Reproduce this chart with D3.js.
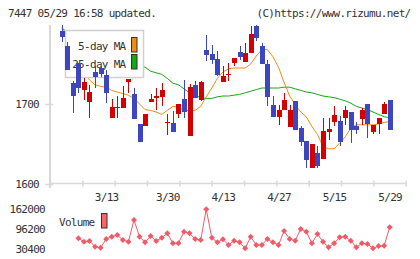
<!DOCTYPE html>
<html>
<head>
<meta charset="utf-8">
<script src="https://cdn.jsdelivr.net/npm/d3@7"></script>
<style>
body { margin: 0; background: #fff; }
text { font-family: "DejaVu Sans Mono", monospace; font-size: 11px; letter-spacing: -0.7px; fill: #333; }
</style>
</head>
<body>
<svg></svg>
<script>
var width = 420,
    height = 259;

// trading days shown (index 0 .. 59)
var dates = ["3/3","3/4","3/5","3/6","3/9","3/10","3/11","3/12","3/13","3/16",
  "3/17","3/18","3/19","3/20","3/23","3/24","3/25","3/26","3/27","3/30",
  "3/31","4/1","4/2","4/3","4/6","4/7","4/8","4/9","4/10","4/13",
  "4/14","4/15","4/16","4/17","4/20","4/21","4/22","4/23","4/24","4/27",
  "4/28","4/30","5/1","5/7","5/8","5/11","5/12","5/13","5/14","5/15",
  "5/18","5/19","5/20","5/21","5/22","5/25","5/26","5/27","5/28","5/29"];

var open = [1791,1772,1726,1751,1718,1703,1740,1745,1736,1683,
  1695,1695,1728,1712,1675,1672,1702,1707,1709,1677,
  1676,1687,1706,1660,1724,1705,1767,1762,1756,1728,
  1736,1751,1765,1753,1764,1797,1772,1750,1699,1684,
  1693,1671,1704,1670,1654,1620,1639,1631,1665,1678,
  1679,1682,1690,1672,1681,1700,1665,1675,1687,1705];
var high = [1799,1778,1729,1751,1732,1724,1747,1747,1742,1706,
  1710,1722,1731,1720,1675,1688,1712,1720,1726,1687,
  1691,1700,1730,1725,1729,1729,1786,1774,1766,1747,
  1751,1758,1772,1776,1797,1799,1776,1755,1710,1699,
  1714,1699,1704,1672,1654,1650,1647,1682,1683,1697,
  1685,1698,1690,1678,1695,1700,1674,1682,1703,1705];
var low = [1777,1742,1689,1714,1705,1682,1720,1734,1701,1683,
  1683,1695,1714,1681,1652,1672,1702,1692,1697,1661,
  1665,1683,1683,1660,1707,1704,1754,1750,1735,1728,
  1729,1747,1755,1753,1764,1779,1750,1697,1684,1674,
  1693,1671,1667,1647,1620,1620,1620,1631,1655,1672,
  1647,1674,1651,1663,1674,1658,1662,1662,1687,1668];
var close = [1784,1742,1710,1720,1728,1715,1734,1738,1714,1696,
  1696,1707,1731,1681,1653,1688,1706,1710,1717,1678,
  1665,1700,1690,1721,1708,1727,1761,1755,1736,1735,
  1737,1757,1759,1764,1788,1782,1750,1709,1684,1692,
  1705,1693,1668,1653,1630,1650,1622,1666,1669,1686,
  1652,1692,1668,1667,1692,1675,1674,1682,1700,1668];

// moving averages
var ma5 = [1794,1786,1774,1757,1740,1730,1724,1722,1721,1717,
  1715,1713,1711,1707,1700,1693,1692,1690,1687,1692,
  1697,1696,1692,1692,1692,1697,1709,1720,1732,1740,
  1744,1745,1745,1745,1750,1760,1768,1768,1759,1746,
  1727,1710,1699,1690,1684,1672,1662,1647,1644,1644,
  1651,1659,1670,1674,1674,1674,1674,1675,1677,1678];
var ma25 = [1795,1790,1785,1780,1776,1772,1769,1766,1762,1760,
  1757,1755,1752,1750,1747,1746,1741,1739,1737,1732,
  1726,1724,1719,1714,1711,1708,1707,1707,1709,1710,
  1710,1711,1712,1714,1716,1718,1720,1720,1720,1720,
  1721,1721,1719,1717,1715,1714,1712,1710,1709,1708,
  1706,1704,1701,1697,1695,1693,1690,1687,1684,1683];

var volume = [null,null,null,65600,54400,56700,38000,34700,63300,70900,
  76500,60000,54400,125800,70900,52400,73200,56700,67600,82000,
  49200,49200,87300,82000,63300,60000,161000,67600,52400,62300,
  43600,57700,52400,32600,70900,43600,43600,63300,52400,43600,
  89600,63300,57700,96200,87300,49100,79800,54400,35900,49100,
  68800,70900,57700,35900,49100,46900,32600,40300,41300,101700];

var dateLabels = ["3/13","3/30","4/13","4/27","5/15","5/29"];
var priceTicks = [1600, 1700];
var volumeTicks = [30400, 96200, 162000];

var svg = d3.select("svg")
    .attr("width", width)
    .attr("height", height);

var plotLeft = 50, plotRight = 405.7, plotTop = 24, plotBottom = 184;
var blue = "#3c46c0", red = "#d40000", axisColor = "#d8d8d8";

var x = d3.scalePoint().domain(d3.range(dates.length)).range([61.7, 389.7]);
var y = d3.scaleLinear().domain([1600, 1800]).range([plotBottom, plotTop]);
var frame = d3.scaleLinear().domain([0, 11]).range([plotLeft, plotRight]);
var yv = d3.scaleLinear().domain([30400, 162000]).range([249, 209]);

//header
svg.append("text").attr("x", 8).attr("y", 16.5).text("7447 05/29 16:58 updated.");
svg.append("text").attr("x", 410.5).attr("y", 16.5).attr("text-anchor", "end")
  .text("(C)https://www.rizumu.net/");

//axes lines
svg.append("line").attr("x1", plotLeft).attr("x2", plotLeft).attr("y1", plotTop + 1).attr("y2", plotBottom + 4)
  .attr("stroke", axisColor).attr("stroke-width", 2);
svg.append("line").attr("x1", plotLeft).attr("x2", plotRight).attr("y1", plotBottom - 0.5).attr("y2", plotBottom - 0.5)
  .attr("stroke", axisColor).attr("stroke-width", 1.5);

//y axis
var yAxis = svg.append("g")
  .attr("transform", "translate(" + plotLeft + ",0)")
  .call(d3.axisLeft(y).tickValues(priceTicks).tickSize(5).tickPadding(6).tickFormat(d3.format("d")));
yAxis.select(".domain").remove();
yAxis.selectAll("line").attr("x1", 3).attr("stroke", axisColor).attr("stroke-width", 1.5);
yAxis.selectAll("text").attr("fill", "#333");

//x frame ticks
var xFrame = svg.append("g")
  .attr("transform", "translate(0," + (plotBottom - 0.5) + ")")
  .call(d3.axisBottom(frame).tickValues(d3.range(12)).tickSize(3).tickFormat(""));
xFrame.select(".domain").remove();
xFrame.selectAll("line").attr("y1", -3).attr("stroke", axisColor).attr("stroke-width", 1.5);

//x date labels
var xLab = svg.append("g")
  .attr("transform", "translate(0," + (plotBottom + 6) + ")")
  .call(d3.axisBottom(x).tickValues(dateLabels.map(function(d){ return dates.indexOf(d); }))
    .tickSize(0).tickFormat(function(i){ return dates[i]; }));
xLab.select(".domain").remove();
xLab.selectAll("text").attr("fill", "#333");

//moving averages
var maLine = function(arr) {
  return d3.line().x(function(d, i){ return x(i); }).y(function(d){ return y(d); })(arr);
};
svg.append("path").attr("d", maLine(ma25)).attr("fill", "none").attr("stroke", "#14a814").attr("stroke-width", 1);
svg.append("path").attr("d", maLine(ma5)).attr("fill", "none").attr("stroke", "#f08c14").attr("stroke-width", 1);

//legend box
var lg = svg.append("g");
lg.append("rect").attr("x", 65.5).attr("y", 30.5).attr("width", 78).attr("height", 47)
  .attr("fill", "#fff").attr("stroke", "#d0d0d0").attr("stroke-width", 1.5);
lg.append("text").attr("x", 125.5).attr("y", 50).attr("text-anchor", "end").text("5-day MA");
lg.append("text").attr("x", 125.5).attr("y", 67.5).attr("text-anchor", "end").text("25-day MA");
lg.append("rect").attr("x", 131.5).attr("y", 37.5).attr("width", 5.5).attr("height", 14.5)
  .attr("fill", "#f08c14").attr("stroke", "#333");
lg.append("rect").attr("x", 131.5).attr("y", 54.5).attr("width", 5.5).attr("height", 14.5)
  .attr("fill", "#14a814").attr("stroke", "#333");

//candles
var candle = svg.append("g").selectAll("g")
    .data(d3.range(dates.length))
  .enter().append("g")
    .attr("shape-rendering", "crispEdges");
candle.append("line")
  .attr("x1", function(i){ return Math.round(x(i)) + 0.5; })
  .attr("x2", function(i){ return Math.round(x(i)) + 0.5; })
  .attr("y1", function(i){ return y(high[i]); })
  .attr("y2", function(i){ return y(low[i]); })
  .attr("stroke", function(i){ return close[i] >= open[i] ? red : blue; });
candle.append("rect")
  .attr("x", function(i){ return Math.round(x(i)) - 2; })
  .attr("width", 5)
  .attr("y", function(i){ return y(Math.max(open[i], close[i])); })
  .attr("height", function(i){ return Math.max(1, Math.abs(y(open[i]) - y(close[i]))); })
  .attr("fill", function(i){ return close[i] >= open[i] ? red : blue; });

//volume
var volColor = "#f25a66";
var vIdx = d3.range(dates.length).filter(function(i){ return volume[i] != null; });
svg.append("path")
  .attr("d", d3.line().x(function(i){ return x(i); }).y(function(i){ return yv(volume[i]); })(vIdx))
  .attr("fill", "none").attr("stroke", volColor).attr("stroke-width", 1);
svg.append("g").selectAll("path")
    .data(vIdx)
  .enter().append("path")
    .attr("d", d3.symbol(d3.symbolSquare, 18))
    .attr("transform", function(i){ return "translate(" + x(i) + "," + yv(volume[i]) + ") rotate(45)"; })
    .attr("fill", volColor);

svg.append("g").selectAll("text")
    .data(volumeTicks)
  .enter().append("text")
    .attr("x", 45)
    .attr("y", function(d){ return yv(d); })
    .attr("dy", "0.35em")
    .attr("text-anchor", "end")
    .text(function(d){ return d; });

svg.append("text").attr("x", 59).attr("y", 225.5).text("Volume");
svg.append("rect").attr("x", 101.5).attr("y", 213.5).attr("width", 5.5).attr("height", 14.5)
  .attr("fill", "#ff6464").attr("stroke", "#333");
</script>
</body>
</html>
